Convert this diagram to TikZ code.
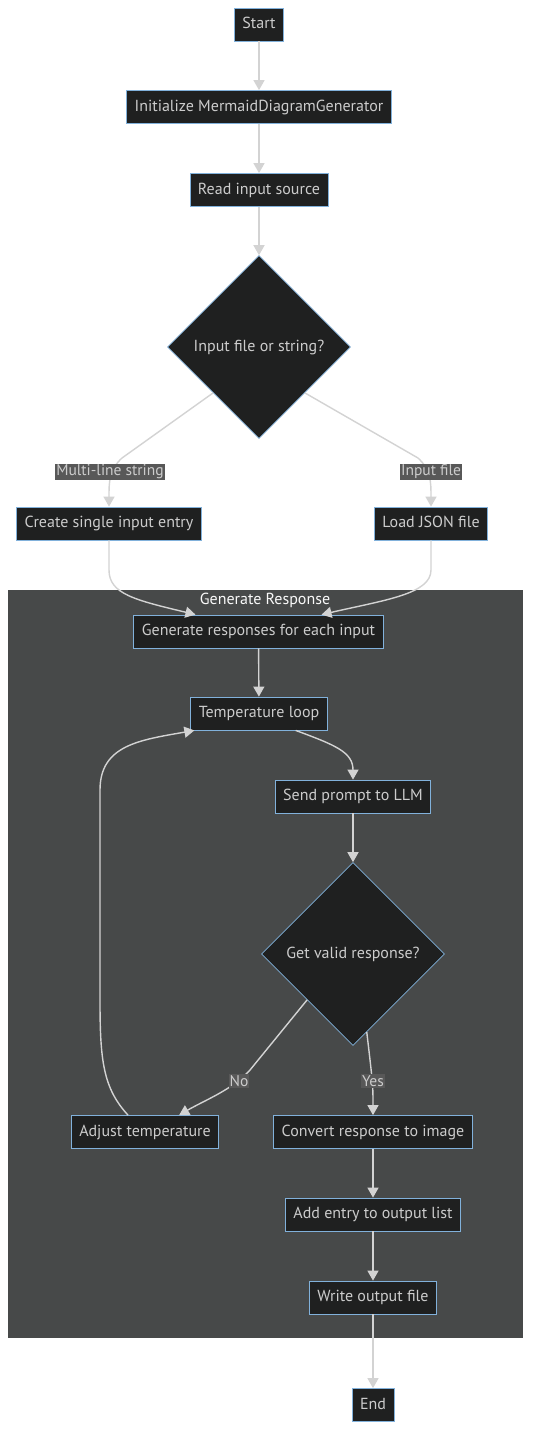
\documentclass[tikz,border=0pt]{standalone}
\usepackage{fontspec}
\setmainfont{PT Sans}
\usetikzlibrary{arrows.meta, shapes.geometric}
\definecolor{nodefill}{HTML}{1F2020}
\definecolor{nodeline}{HTML}{81B1DB}
\definecolor{nodetext}{HTML}{CCCCCC}
\definecolor{edgeline}{HTML}{D3D3D3}
\definecolor{clusterfill}{HTML}{474949}
\definecolor{labelfill}{HTML}{585858}

\begin{document}
\begin{tikzpicture}[x=1pt, y=-1pt,
  box/.style={draw=nodeline, line width=0.8pt, fill=nodefill, text=nodetext,
    font=\fontsize{16}{19}\selectfont, inner xsep=8pt, inner ysep=0pt, minimum height=33pt,
    text height=11pt, text depth=2.5pt},
  choice/.style={diamond, draw=nodeline, line width=0.6pt, fill=nodefill, text=nodetext,
    font=\fontsize{16}{19}\selectfont, minimum width=183pt, minimum height=183pt, inner sep=0pt},
  flow/.style={draw=edgeline, line width=1.4pt, -{Triangle[length=10pt,width=11pt]}},
  tag/.style={fill=labelfill, text=nodetext, font=\fontsize{15.5}{18}\selectfont, inner sep=1pt}]

\useasboundingbox[fill=white] (0,0) rectangle (539,1452);

\node (resp) [fill=clusterfill, minimum width=515pt, minimum height=748pt, inner sep=0pt] at (265.5,964) {};
\node (resptitle) [text=gray!5, font=\fontsize{16}{19}\selectfont] at (265,600) {Generate Response};

\node (start) [box] at (259,24.5) {Start};
\node (init) [box] at (259,107) {Initialize MermaidDiagramGenerator};
\node (read) [box] at (259,190) {Read input source};
\node (ask) [choice] at (259,347) {Input file or string?};
\node (create) [box] at (109,523.5) {Create single input entry};
\node (load) [box] at (431,523.5) {Load JSON file};
\node (gen) [box] at (258.5,631.5) {Generate responses for each input};
\node (temp) [box] at (259,713.5) {Temperature loop};
\node (send) [box] at (353,796.5) {Send prompt to LLM};
\node (check) [choice] at (353,954) {Get valid response?};
\node (adjust) [box] at (145,1132) {Adjust temperature};
\node (convert) [box] at (373,1132) {Convert response to image};
\node (add) [box] at (373,1214.5) {Add entry to output list};
\node (write) [box] at (373,1297.5) {Write output file};
\node (end) [box] at (373,1405) {End};

\draw[flow] (start) -- (init);
\draw[flow] (init) -- (read);
\draw[flow] (read) -- (ask);
\draw[flow] (ask.south west) -- (122,458) .. controls (109,470) and (109,482) .. (create.north);
\draw[flow] (ask.south east) -- (418,458) .. controls (431,470) and (431,482) .. (load.north);
\draw[flow] (create.south) -- (109,570) .. controls (109,594) and (135,600) .. ([xshift=62pt]gen.north west);
\draw[flow] (load.south) -- (431,570) .. controls (431,594) and (385,600) .. ([xshift=-62pt]gen.north east);
\draw[flow] (gen) -- (temp);
\draw[flow] ([xshift=-32pt]temp.south east) .. controls (335,745) and (353,752) .. (send.north);
\draw[flow] (send) -- (check);
\draw[flow] (check.south west) -- (250,1070) .. controls (232,1090) and (205,1100) .. ([xshift=-40pt]adjust.north east);
\draw[flow] (check.-80) .. controls (373,1085) .. (convert.north);
\draw[flow] ([xshift=-17pt]adjust.north) .. controls (103,1088) and (100,1060) .. (100,1000)
  -- (100,790) .. controls (100,745) and (140,740) .. ([xshift=4pt]temp.south west);
\draw[flow] (convert) -- (add);
\draw[flow] (add) -- (write);
\draw[flow] (write) -- (end);

\node (multi) [tag] at (110,472) {Multi-line string};
\node (file) [tag] at (431,472) {Input file};
\node (no) [tag] at (239,1081) {No};
\node (yes) [tag] at (373,1081) {Yes};
\end{tikzpicture}
\end{document}
